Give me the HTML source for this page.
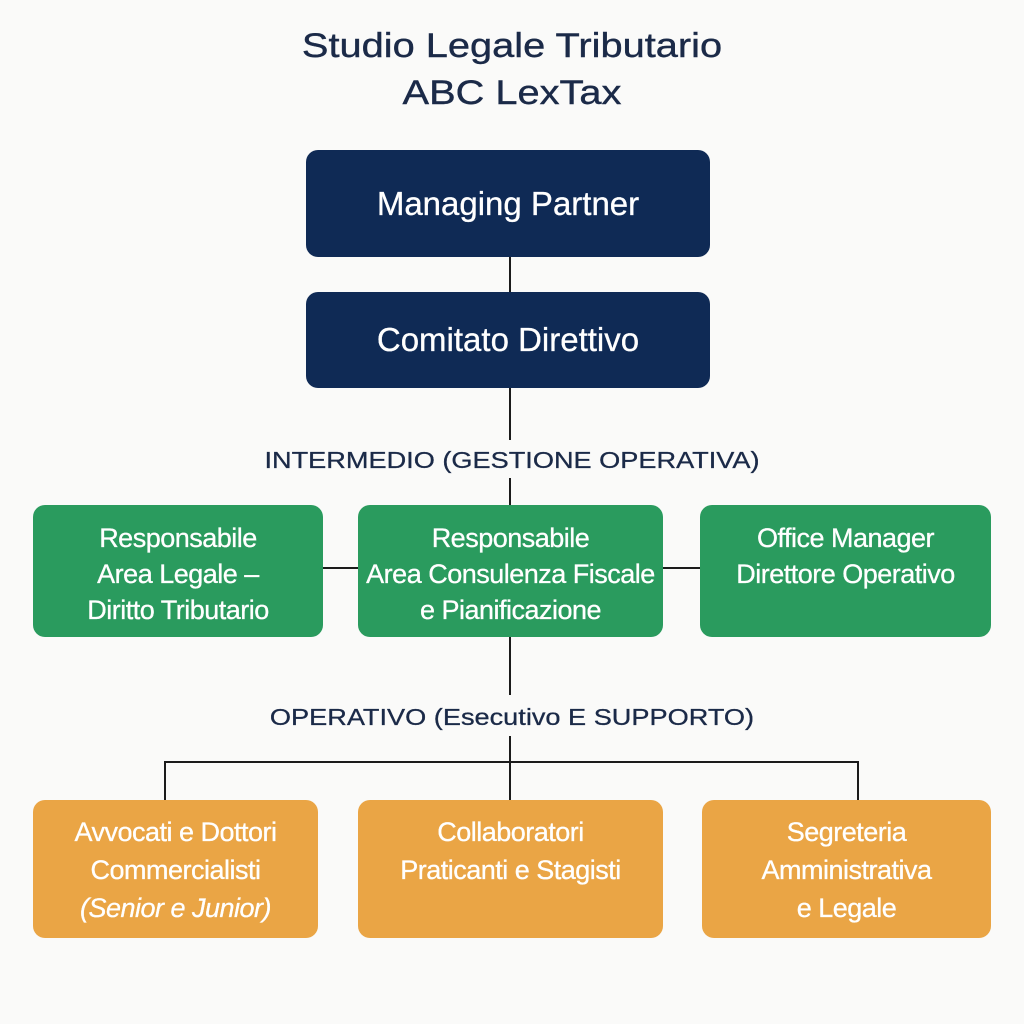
<!DOCTYPE html>
<html><head><meta charset="utf-8"><style>
body{margin:0;width:1024px;height:1024px;background:#fafaf9;position:relative;font-family:"Liberation Sans",sans-serif;overflow:hidden}
.t{position:absolute;left:0;width:1024px;text-align:center;color:#1b2a48;font-size:34px;transform:scaleX(1.17);-webkit-text-stroke:0.4px #1b2a48}
.b{position:absolute;border-radius:12px;color:#fff;display:flex;flex-direction:column;align-items:center;justify-content:center;text-align:center;box-sizing:border-box;-webkit-text-stroke:0.3px #fff}
.n{background:#0f2a55;font-size:33px}
.g{background:#2a9b5e;font-size:27px;line-height:36px;justify-content:flex-start;padding-top:15px;letter-spacing:-0.5px}
.o{background:#eaa545;font-size:27px;line-height:38px;justify-content:flex-start;padding-top:13px;letter-spacing:-0.5px}
.l{position:absolute;background:#1b1b1b}
.lab{position:absolute;left:0;width:1024px;text-align:center;color:#1b2a48;font-size:23px;transform:scaleX(1.18);-webkit-text-stroke:0.3px #1b2a48}
</style></head><body>
<div class="t" style="top:27px">Studio Legale Tributario</div>
<div class="t" style="top:74px">ABC LexTax</div>
<div class="b n" style="left:306px;top:150px;width:404px;height:107px">Managing Partner</div>
<div class="l" style="left:509px;top:257px;width:2px;height:35px"></div>
<div class="b n" style="left:306px;top:292px;width:404px;height:96px">Comitato Direttivo</div>
<div class="l" style="left:509px;top:388px;width:2px;height:52px"></div>
<div class="lab" style="top:447px">INTERMEDIO (GESTIONE OPERATIVA)</div>
<div class="l" style="left:509px;top:478px;width:2px;height:27px"></div>
<div class="l" style="left:323px;top:567px;width:35px;height:2px"></div>
<div class="l" style="left:663px;top:567px;width:37px;height:2px"></div>
<div class="b g" style="left:33px;top:505px;width:290px;height:132px">Responsabile<br>Area Legale –<br>Diritto Tributario</div>
<div class="b g" style="left:358px;top:505px;width:305px;height:132px">Responsabile<br>Area Consulenza Fiscale<br>e Pianificazione</div>
<div class="b g" style="left:700px;top:505px;width:291px;height:132px">Office Manager<br>Direttore Operativo</div>
<div class="l" style="left:509px;top:637px;width:2px;height:58px"></div>
<div class="lab" style="top:704px">OPERATIVO (Esecutivo E SUPPORTO)</div>
<div class="l" style="left:509px;top:736px;width:2px;height:64px"></div>
<div class="l" style="left:164px;top:761px;width:695px;height:2px"></div>
<div class="l" style="left:164px;top:761px;width:2px;height:39px"></div>
<div class="l" style="left:857px;top:761px;width:2px;height:39px"></div>
<div class="b o" style="left:33px;top:800px;width:285px;height:138px">Avvocati e Dottori<br>Commercialisti<br><i>(Senior e Junior)</i></div>
<div class="b o" style="left:358px;top:800px;width:305px;height:138px">Collaboratori<br>Praticanti e Stagisti</div>
<div class="b o" style="left:702px;top:800px;width:289px;height:138px">Segreteria<br>Amministrativa<br>e Legale</div>
</body></html>
